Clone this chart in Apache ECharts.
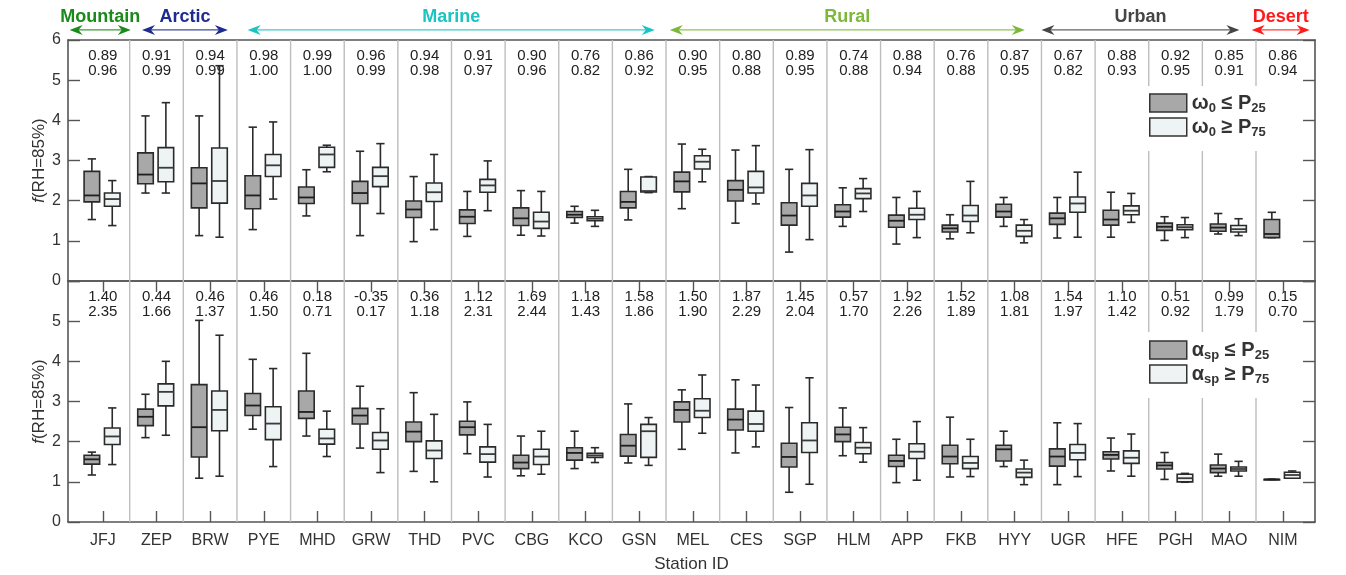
<!DOCTYPE html>
<html>
<head>
<meta charset="utf-8">
<script src="https://cdn.jsdelivr.net/npm/echarts@6/dist/echarts.min.js"></script>
<style>html,body{margin:0;padding:0;background:#fff;}#c{width:1346px;height:575px;}</style>
</head>
<body>
<div id="c"></div>
<script>
// ---------------- DATA ----------------
const stations = ['JFJ','ZEP','BRW','PYE','MHD','GRW','THD','PVC','CBG','KCO','GSN','MEL','CES','SGP','HLM','APP','FKB','HYY','UGR','HFE','PGH','MAO','NIM'];

// box stats: [min, Q1, median, Q3, max]
const omegaLow = [
 [1.53,1.97,2.13,2.73,3.04],[2.19,2.42,2.65,3.19,4.11],[1.13,1.82,2.43,2.82,4.11],[1.28,1.80,2.13,2.62,3.83],
 [1.62,1.93,2.08,2.34,2.77],[1.13,1.93,2.19,2.48,3.23],[0.98,1.58,1.78,1.99,2.60],[1.11,1.43,1.60,1.77,2.23],
 [1.14,1.38,1.56,1.82,2.25],[1.44,1.58,1.65,1.73,1.86],[1.52,1.82,1.97,2.23,2.78],[1.80,2.22,2.48,2.71,3.41],
 [1.44,1.99,2.27,2.50,3.26],[0.72,1.39,1.63,1.95,2.78],[1.36,1.59,1.73,1.90,2.32],[0.92,1.34,1.50,1.64,2.08],
 [1.05,1.22,1.31,1.39,1.65],[1.36,1.59,1.73,1.91,2.08],[1.07,1.41,1.56,1.69,2.08],[1.09,1.39,1.53,1.76,2.21],
 [1.01,1.26,1.35,1.44,1.60],[1.17,1.24,1.33,1.42,1.68],[1.08,1.08,1.17,1.53,1.71]
];
const omegaHigh = [
 [1.38,1.86,2.04,2.19,2.50],[2.19,2.47,2.82,3.32,4.44],[1.09,1.94,2.49,3.31,5.36],[2.04,2.60,2.88,3.15,3.96],
 [2.72,2.83,3.15,3.33,3.38],[1.68,2.35,2.61,2.83,3.42],[1.28,1.98,2.21,2.44,3.15],[1.75,2.21,2.38,2.53,2.99],
 [1.12,1.31,1.48,1.71,2.23],[1.36,1.50,1.55,1.60,1.76],[2.20,2.22,2.24,2.59,2.60],[2.47,2.79,2.97,3.12,3.28],
 [1.92,2.19,2.33,2.73,3.37],[1.03,1.86,2.13,2.43,3.27],[1.73,2.05,2.18,2.30,2.55],[1.08,1.53,1.65,1.81,2.23],
 [1.20,1.48,1.63,1.88,2.48],[0.95,1.11,1.25,1.39,1.53],[1.09,1.71,1.93,2.09,2.71],[1.46,1.65,1.75,1.87,2.18],
 [1.08,1.28,1.34,1.40,1.58],[1.13,1.22,1.29,1.38,1.55],null
];
const alphaLow = [
 [1.17,1.44,1.56,1.66,1.74],[2.10,2.40,2.62,2.81,3.18],[1.09,1.62,2.36,3.42,5.02],[2.31,2.65,2.90,3.20,4.05],
 [2.14,2.58,2.74,3.26,4.20],[1.84,2.44,2.65,2.83,3.38],[1.26,2.00,2.25,2.49,3.22],[1.70,2.17,2.36,2.51,2.99],
 [1.15,1.33,1.48,1.66,2.14],[1.33,1.54,1.72,1.85,2.26],[1.47,1.64,1.90,2.18,2.94],[1.81,2.49,2.79,2.99,3.29],
 [1.72,2.29,2.55,2.81,3.54],[0.74,1.37,1.62,1.96,2.85],[1.65,2.00,2.18,2.36,2.84],[0.98,1.38,1.52,1.66,2.06],
 [1.12,1.45,1.63,1.91,2.61],[1.38,1.52,1.81,1.91,2.26],[0.93,1.39,1.63,1.82,2.47],[1.27,1.57,1.67,1.75,2.09],
 [1.06,1.32,1.41,1.48,1.73],[1.14,1.23,1.33,1.42,1.69],[1.06,1.06,1.06,1.06,1.06]
];
const alphaHigh = [
 [1.43,1.93,2.13,2.34,2.84],[2.16,2.89,3.24,3.44,4.00],[1.14,2.27,2.79,3.26,4.65],[1.38,2.05,2.45,2.87,3.82],
 [1.63,1.94,2.08,2.31,2.76],[1.23,1.81,2.03,2.23,2.82],[1.00,1.58,1.78,2.02,2.68],[1.12,1.49,1.69,1.87,2.43],
 [1.19,1.43,1.63,1.81,2.26],[1.48,1.61,1.66,1.71,1.85],[1.41,1.61,2.26,2.43,2.60],[2.21,2.60,2.77,3.07,3.66],
 [1.87,2.26,2.44,2.76,3.41],[0.94,1.73,2.03,2.47,3.59],[1.49,1.70,1.85,1.98,2.35],[1.04,1.58,1.75,1.95,2.50],
 [1.13,1.33,1.47,1.63,2.06],[0.93,1.11,1.23,1.32,1.54],[1.13,1.55,1.72,1.93,2.45],[1.14,1.46,1.60,1.77,2.19],
 [0.99,1.00,1.09,1.19,1.21],[1.14,1.27,1.32,1.37,1.51],[1.09,1.09,1.17,1.24,1.27]
];

// annotation numbers per station
const omegaR1 = ['0.89','0.91','0.94','0.98','0.99','0.96','0.94','0.91','0.90','0.76','0.86','0.90','0.80','0.89','0.74','0.88','0.76','0.87','0.67','0.88','0.92','0.85','0.86'];
const omegaR2 = ['0.96','0.99','0.99','1.00','1.00','0.99','0.98','0.97','0.96','0.82','0.92','0.95','0.88','0.95','0.88','0.94','0.88','0.95','0.82','0.93','0.95','0.91','0.94'];
const alphaR1 = ['1.40','0.44','0.46','0.46','0.18','-0.35','0.36','1.12','1.69','1.18','1.58','1.50','1.87','1.45','0.57','1.92','1.52','1.08','1.54','1.10','0.51','0.99','0.15'];
const alphaR2 = ['2.35','1.66','1.37','1.50','0.71','0.17','1.18','2.31','2.44','1.43','1.86','1.90','2.29','2.04','1.70','2.26','1.89','1.81','1.97','1.42','0.92','1.79','0.70'];

// station-type groups (span in station-index units)
const groupNames  = ['Mountain','Arctic','Marine','Rural','Urban','Desert'];
const groupStart  = [0.38, 1.73, 3.70, 11.57, 18.50, 22.42];
const groupEnd    = [1.52, 3.33, 11.29, 18.19, 22.19, 23.50];
const groupColors = ['#1a8a1a','#1f2b8e','#1cc3c3','#7cb83a','#454545','#ff1a1a'];

// ---------------- CHART ----------------
const FONT = '"Liberation Sans", Arial, sans-serif';
const X_MIN = 0.35, X_MAX = 23.6;
const BOX_W = 0.29, CAP_W = 0.155;
const DARK_FILL = '#a8a8a8', LIGHT_FILL = '#eef3f3', EDGE = '#2a2a2a';
const stationIdx = stations.map((s, i) => i + 1);

function boxData(arr) {
  const out = [];
  arr.forEach((b, i) => { if (b) out.push([i + 1].concat(b)); });
  return out;
}
function boxRender(offset, fill, medColor) {
  return function (params, api) {
    const x = api.value(0) + offset;
    const vals = [1,2,3,4,5].map(k => api.value(k));
    const p = vals.map(v => api.coord([x, v]));
    const w = api.size([BOX_W, 0])[0];
    const cw = api.size([CAP_W, 0])[0];
    const cx = p[0][0];
    const ls = { stroke: EDGE, lineWidth: 1.6 };
    return {
      type: 'group',
      children: [
        { type: 'line', shape: { x1: cx, y1: p[4][1], x2: cx, y2: p[3][1] }, style: ls },
        { type: 'line', shape: { x1: cx, y1: p[1][1], x2: cx, y2: p[0][1] }, style: ls },
        { type: 'line', shape: { x1: cx - cw/2, y1: p[4][1], x2: cx + cw/2, y2: p[4][1] }, style: ls },
        { type: 'line', shape: { x1: cx - cw/2, y1: p[0][1], x2: cx + cw/2, y2: p[0][1] }, style: ls },
        { type: 'rect', shape: { x: cx - w/2, y: p[3][1], width: w, height: Math.max(p[1][1] - p[3][1], 0.5) },
          style: { fill: fill, stroke: EDGE, lineWidth: 1.6 } },
        { type: 'line', shape: { x1: cx - w/2, y1: p[2][1], x2: cx + w/2, y2: p[2][1] }, style: { stroke: medColor, lineWidth: 1.8 } }
      ]
    };
  };
}
function dividerSeries(xi, yi) {
  return {
    type: 'custom', xAxisIndex: xi, yAxisIndex: yi, z: 1, silent: true,
    data: stationIdx.slice(0, -1).map(i => [i + 0.5]),
    encode: { x: 0 },
    renderItem: function (params, api) {
      const a = api.coord([api.value(0), 0]);
      const b = api.coord([api.value(0), 6]);
      return { type: 'line', shape: { x1: a[0], y1: a[1], x2: b[0], y2: b[1] }, style: { stroke: '#bdbdbd', lineWidth: 1.4 } };
    }
  };
}
function annotSeries(xi, yi, r1, r2, y1, y2) {
  return {
    type: 'custom', xAxisIndex: xi, yAxisIndex: yi, z: 3, silent: true,
    data: stationIdx.map(i => [i]),
    encode: { x: 0 },
    renderItem: function (params, api) {
      const i = params.dataIndex;
      const a = api.coord([api.value(0), y1]);
      const b = api.coord([api.value(0), y2]);
      const st = { font: '15px ' + FONT, fill: '#222', align: 'center', verticalAlign: 'middle' };
      return { type: 'group', children: [
        { type: 'text', style: Object.assign({ text: r1[i], x: a[0], y: a[1] }, st) },
        { type: 'text', style: Object.assign({ text: r2[i], x: b[0], y: b[1] }, st) }
      ] };
    }
  };
}

const axisLineStyle = { color: '#555', width: 1.6 };
function xAxisCfg(grid, pos, withTicks, withLabels) {
  return {
    gridIndex: grid, type: 'value', position: pos, min: X_MIN, max: X_MAX,
    axisLine: { show: true, onZero: false, lineStyle: axisLineStyle },
    axisTick: withTicks ? { show: true, inside: true, length: 11, customValues: stationIdx, lineStyle: { color: '#555', width: 1.4 } } : { show: false },
    axisLabel: withLabels ? { show: true, customValues: stationIdx, formatter: v => stations[Math.round(v) - 1] || '', margin: 11, fontSize: 16, color: '#333', fontFamily: FONT } : { show: false },
    splitLine: { show: false },
    name: withLabels ? 'Station ID' : '', nameLocation: 'middle', nameGap: 34,
    nameTextStyle: { fontSize: 17, color: '#333', fontFamily: FONT }
  };
}
function yAxisCfg(grid, pos, labels, hideTop) {
  return {
    gridIndex: grid, type: 'value', position: pos, min: 0, max: 6, interval: 1,
    axisLine: { show: true, lineStyle: axisLineStyle },
    axisTick: { show: true, inside: true, length: 12, lineStyle: { color: '#555', width: 1.4 } },
    axisLabel: labels ? { show: true, margin: 7, fontSize: 16, color: '#333', fontFamily: FONT,
      formatter: v => (hideTop && v === 6) ? '' : String(v) } : { show: false },
    splitLine: { show: false },
    name: labels ? '{i|f}(RH=85%)' : '', nameLocation: 'middle', nameGap: 20, nameMoveOverlap: false,
    nameTextStyle: { fontSize: 17, color: '#333', fontFamily: FONT, rich: { i: { fontStyle: 'italic', fontSize: 17, color: '#333', fontFamily: FONT } } }
  };
}
const richLegend = {
  b: { fontSize: 20, fontWeight: 'bold', color: '#333', fontFamily: FONT, lineHeight: 24, verticalAlign: 'middle' },
  s: { fontSize: 13, fontWeight: 'bold', color: '#333', fontFamily: FONT, lineHeight: 13, verticalAlign: 'bottom' }
};
const legendLabels = {
  wLow: '{b|ω}{s|0}{b| ≤ P}{s|25}', wHigh: '{b|ω}{s|0}{b| ≥ P}{s|75}',
  aLow: '{b|α}{s|sp}{b| ≤ P}{s|25}', aHigh: '{b|α}{s|sp}{b| ≥ P}{s|75}'
};
function legendCfg(names, top, pad) {
  return {
    data: names, orient: 'vertical', left: 1148, top: top, padding: pad,
    backgroundColor: '#fff', itemWidth: 37, itemHeight: 18, itemGap: 2, selectedMode: false,
    icon: 'rect', itemStyle: { borderColor: '#333', borderWidth: 1.5 },
    formatter: n => legendLabels[n], textStyle: { rich: richLegend }
  };
}

const chart = echarts.init(document.getElementById('c'), null, { renderer: 'canvas' });
chart.setOption({
  animation: false,
  backgroundColor: '#fff',
  grid: [
    { left: 68, right: 31, top: 40, height: 241 },
    { left: 68, right: 31, top: 281, height: 241 }
  ],
  xAxis: [
    xAxisCfg(0, 'bottom', false, false),
    xAxisCfg(0, 'top', false, false),
    xAxisCfg(1, 'bottom', true, true),
    xAxisCfg(1, 'top', true, false)
  ],
  yAxis: [
    yAxisCfg(0, 'left', true, false),
    yAxisCfg(0, 'right', false, false),
    yAxisCfg(1, 'left', true, true),
    yAxisCfg(1, 'right', false, false)
  ],
  legend: [
    legendCfg(['wLow', 'wHigh'], 86, [7, 12, 12, 1]),
    legendCfg(['aLow', 'aHigh'], 332, [8, 12, 12, 1])
  ],
  series: [
    dividerSeries(0, 0),
    dividerSeries(2, 2),
    annotSeries(0, 0, omegaR1, omegaR2, 5.6, 5.24),
    annotSeries(2, 2, alphaR1, alphaR2, 5.6, 5.22),
    { name: 'wLow', type: 'custom', xAxisIndex: 0, yAxisIndex: 0, z: 4, itemStyle: { color: DARK_FILL },
      data: boxData(omegaLow), encode: { x: 0, y: [1,2,3,4,5] }, renderItem: boxRender(-0.205, DARK_FILL, '#1e1e1e') },
    { name: 'wHigh', type: 'custom', xAxisIndex: 0, yAxisIndex: 0, z: 4, itemStyle: { color: LIGHT_FILL },
      data: boxData(omegaHigh), encode: { x: 0, y: [1,2,3,4,5] }, renderItem: boxRender(0.175, LIGHT_FILL, '#3a3a3a') },
    { name: 'aLow', type: 'custom', xAxisIndex: 2, yAxisIndex: 2, z: 4, itemStyle: { color: DARK_FILL },
      data: boxData(alphaLow), encode: { x: 0, y: [1,2,3,4,5] }, renderItem: boxRender(-0.205, DARK_FILL, '#1e1e1e') },
    { name: 'aHigh', type: 'custom', xAxisIndex: 2, yAxisIndex: 2, z: 4, itemStyle: { color: LIGHT_FILL },
      data: boxData(alphaHigh), encode: { x: 0, y: [1,2,3,4,5] }, renderItem: boxRender(0.175, LIGHT_FILL, '#3a3a3a') },
    { type: 'custom', xAxisIndex: 0, yAxisIndex: 0, z: 5, silent: true, clip: false,
      data: groupNames.map((n, i) => [groupStart[i], groupEnd[i]]),
      encode: { x: [0, 1] },
      renderItem: function (params, api) {
        const i = params.dataIndex;
        const a = api.coord([api.value(0), 6.25]);
        const b = api.coord([api.value(1), 6.25]);
        const t = api.coord([(api.value(0) + api.value(1)) / 2, 6.58]);
        const col = groupColors[i];
        const y = a[1];
        return { type: 'group', children: [
          { type: 'line', shape: { x1: a[0] + 6, y1: y, x2: b[0] - 6, y2: y }, style: { stroke: col, lineWidth: 1.2, opacity: 0.85 } },
          { type: 'polygon', shape: { points: [[a[0], y], [a[0] + 13, y - 5], [a[0] + 9, y], [a[0] + 13, y + 5]] }, style: { fill: col } },
          { type: 'polygon', shape: { points: [[b[0], y], [b[0] - 13, y - 5], [b[0] - 9, y], [b[0] - 13, y + 5]] }, style: { fill: col } },
          { type: 'text', style: { text: groupNames[i], x: t[0], y: t[1], align: 'center', verticalAlign: 'middle',
            font: 'bold 18px ' + FONT, fill: col } }
        ] };
      }
    }
  ]
});
</script>
</body>
</html>
